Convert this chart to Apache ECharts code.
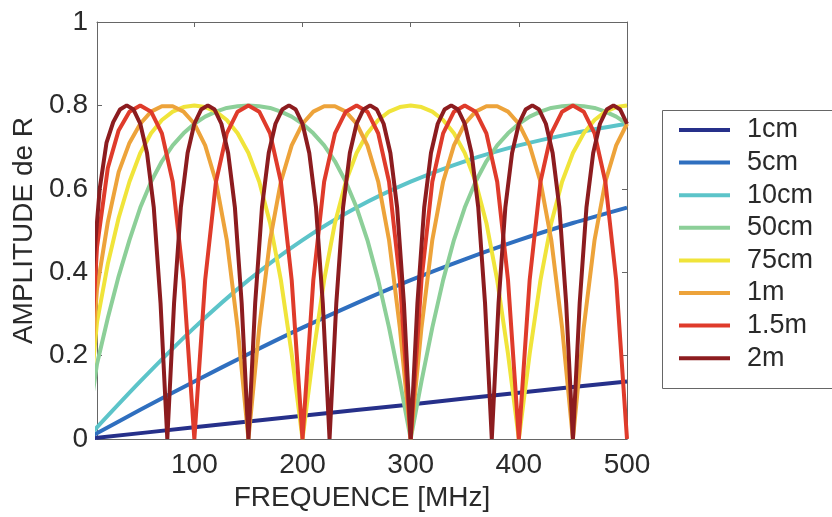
<!DOCTYPE html>
<html>
<head>
<meta charset="utf-8">
<script src="https://cdn.jsdelivr.net/npm/echarts@6/dist/echarts.min.js"></script>
<style>html,body{margin:0;padding:0;background:#fff;}#c{width:832px;height:517px;}</style>
</head>
<body>
<div id="c"></div>
<script>
// Legend names
const names = ['1cm', '5cm', '10cm', '50cm', '75cm', '1m', '1.5m', '2m'];
const colors = ['#26308a', '#2f6fbf', '#5cc4c9', '#8ccf98', '#f0e43a', '#eda33a', '#df3b2b', '#8c1c1f'];

// Frequencies (MHz)
const freq100 = [0, 100, 200, 300, 400, 500];
const freq50 = [0, 50, 100, 150, 200, 250, 300, 350, 400, 450, 500];
const freq10 = [0,10,20,30,40,50,60,70,80,90,100,110,120,130,140,150,160,170,180,190,200,210,220,230,240,250,260,270,280,290,300,310,320,330,340,350,360,370,380,390,400,410,420,430,440,450,460,470,480,490,500];
const freq6 = [0,6.25,12.5,18.75,25,31.25,37.5,43.75,50,56.25,62.5,68.75,75,81.25,87.5,93.75,100,106.25,112.5,118.75,125,131.25,137.5,143.75,150,156.25,162.5,168.75,175,181.25,187.5,193.75,200,206.25,212.5,218.75,225,231.25,237.5,243.75,250,256.25,262.5,268.75,275,281.25,287.5,293.75,300,306.25,312.5,318.75,325,331.25,337.5,343.75,350,356.25,362.5,368.75,375,381.25,387.5,393.75,400,406.25,412.5,418.75,425,431.25,437.5,443.75,450,456.25,462.5,468.75,475,481.25,487.5,493.75,500];

// Amplitudes of R
const amp1cm = [0, 0.028, 0.056, 0.083, 0.111, 0.138];
const amp5cm = [0, 0.070, 0.138, 0.204, 0.267, 0.326, 0.381, 0.431, 0.477, 0.518, 0.555];
const amp10cm = [0, 0.138, 0.267, 0.381, 0.477, 0.555, 0.617, 0.666, 0.704, 0.733, 0.756];
const amp50cm = [0,.180,.290,.390,.477,.555,.617,.666,.704,.733,.756,.773,.785,.794,.798,.800,.798,.794,.785,.773,.756,.733,.704,.666,.617,.555,.477,.381,.267,.138,
  0,.138,.267,.381,.477,.555,.617,.666,.704,.733,.756,.773,.785,.794,.798,.800,.798,.794,.785,.773,.756];
const amp75cm = [0,.280,.420,.530,.617,.686,.733,.765,.785,.796,.800,.796,.785,.765,.733,.686,.617,.518,.381,.204,
  0,.204,.381,.518,.617,.686,.733,.765,.785,.796,.800,.796,.785,.765,.733,.686,.617,.518,.381,.204,
  0,.204,.381,.518,.617,.686,.733,.765,.785,.796,.800];
const amp1m = [0,.360,.520,.640,.710,.756,.785,.798,.798,.785,.756,.704,.617,.477,.267,
  0,.267,.477,.617,.704,.756,.785,.798,.798,.785,.756,.704,.617,.477,.267,
  0,.267,.477,.617,.704,.756,.785,.798,.798,.785,.756,.704,.617,.477,.267,
  0,.267,.477,.617,.704,.756];
const amp15m = [0,.460,.650,.740,.785,.800,.785,.733,.617,.381,
  0,.381,.617,.733,.785,.800,.785,.733,.617,.381,
  0,.381,.617,.733,.785,.800,.785,.733,.617,.381,
  0,.381,.617,.733,.785,.800,.785,.733,.617,.381,
  0,.381,.617,.733,.785,.800,.785,.733,.617,.381,
  0];
const amp2m = [0,.400,.600,.710,.760,.790,.800,.790,.756,.686,.555,.326,
  0,.326,.555,.686,.756,.790,.800,.790,.756,.686,.555,.326,
  0,.326,.555,.686,.756,.790,.800,.790,.756,.686,.555,.326,
  0,.326,.555,.686,.756,.790,.800,.790,.756,.686,.555,.326,
  0,.326,.555,.686,.756,.790,.800,.790,.756,.686,.555,.326,
  0,.326,.555,.686,.756,.790,.800,.790,.756,.686,.555,.326,
  0,.326,.555,.686,.756,.790,.800,.790,.756];

const xTicks = [100, 200, 300, 400, 500];

const pairs = (xs, ys) => xs.map((x, i) => [x, ys[i]]);
const seriesData = [
  pairs(freq100, amp1cm), pairs(freq50, amp5cm), pairs(freq50, amp10cm),
  pairs(freq10, amp50cm), pairs(freq10, amp75cm), pairs(freq10, amp1m),
  pairs(freq10, amp15m), pairs(freq6, amp2m)
];

const font = 'Liberation Sans, Arial, Helvetica, sans-serif';
const textColor = '#2a2a2a';
const axisLineStyle = { color: '#666', width: 1 };

const chart = echarts.init(document.getElementById('c'));
chart.setOption({
  animation: false,
  backgroundColor: '#fff',
  grid: { left: 97, right: 205, top: 22, bottom: 78 },
  graphic: [{
    type: 'rect', z: 0, silent: true,
    shape: { x: 662.5, y: 110.5, width: 220, height: 278 },
    style: { fill: '#fff', stroke: '#666', lineWidth: 1 }
  }],
  xAxis: [{
    type: 'value', min: 10, max: 500, position: 'bottom',
    name: 'FREQUENCE [MHz]', nameLocation: 'middle', nameGap: 43,
    nameTextStyle: { fontFamily: font, fontSize: 28, color: textColor },
    axisLine: { show: true, onZero: false, lineStyle: axisLineStyle },
    axisTick: { show: true, inside: true, length: 5, customValues: xTicks, lineStyle: axisLineStyle },
    axisLabel: { customValues: xTicks, fontFamily: font, fontSize: 28, color: textColor, margin: 12 },
    splitLine: { show: false }
  }, {
    type: 'value', min: 10, max: 500, position: 'top',
    axisLine: { show: true, onZero: false, lineStyle: axisLineStyle },
    axisTick: { show: true, inside: true, length: 5, customValues: xTicks, lineStyle: axisLineStyle },
    axisLabel: { show: false },
    splitLine: { show: false }
  }],
  yAxis: [{
    type: 'value', min: 0, max: 1, interval: 0.2, position: 'left',
    name: 'AMPLITUDE de R', nameLocation: 'middle', nameGap: 56, nameRotate: 90,
    nameTextStyle: { fontFamily: font, fontSize: 28, color: textColor },
    axisLine: { show: true, onZero: false, lineStyle: axisLineStyle },
    axisTick: { show: true, inside: true, length: 5, lineStyle: axisLineStyle },
    axisLabel: { fontFamily: font, fontSize: 28, color: textColor, margin: 9 },
    splitLine: { show: false }
  }, {
    type: 'value', min: 0, max: 1, interval: 0.2, position: 'right',
    axisLine: { show: true, onZero: false, lineStyle: axisLineStyle },
    axisTick: { show: true, inside: true, length: 5, lineStyle: axisLineStyle },
    axisLabel: { show: false },
    splitLine: { show: false }
  }],
  legend: {
    data: names, orient: 'vertical', left: 662, top: 110,
    icon: 'rect', itemWidth: 51, itemHeight: 4, itemGap: 4.6,
    padding: [6, 10, 16, 17],
    borderWidth: 0, backgroundColor: 'transparent',
    textStyle: { fontFamily: font, fontSize: 27, color: textColor, lineHeight: 28, padding: [0, 0, 0, 12] }
  },
  series: names.map((n, i) => ({
    name: n, type: 'line', data: seriesData[i],
    xAxisIndex: 0, yAxisIndex: 0,
    showSymbol: false, symbol: 'none', clip: true,
    smooth: i < 3 ? 0.3 : false,
    color: colors[i],
    lineStyle: { color: colors[i], width: 4 },
    itemStyle: { color: colors[i] },
    z: 2 + i
  }))
});
</script>
</body>
</html>
